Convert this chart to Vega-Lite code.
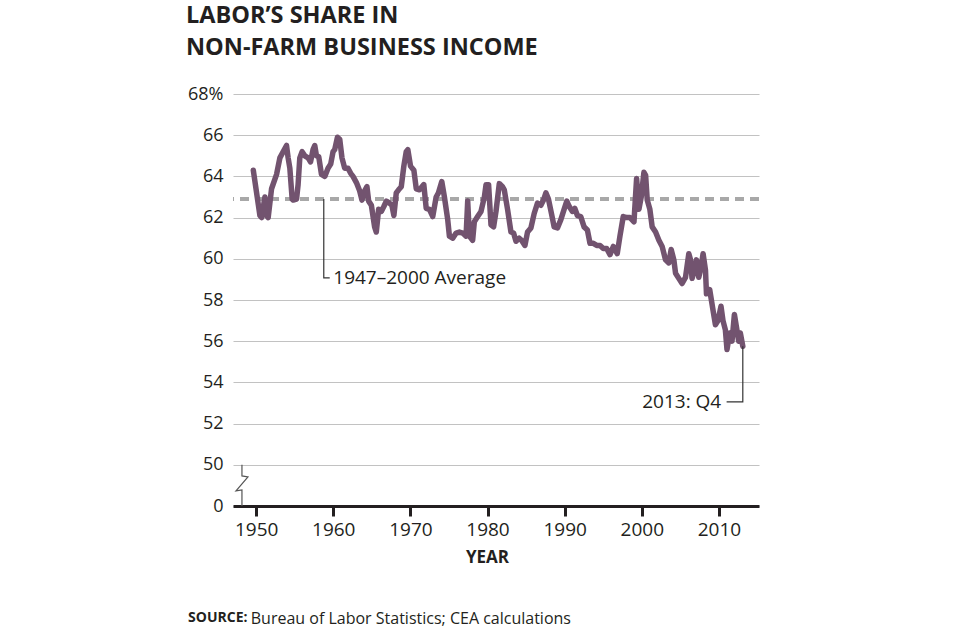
{
  "$schema": "https://vega.github.io/schema/vega-lite/v6.json",
  "width": 526,
  "height": 412,
  "autosize": {"type": "none"},
  "padding": {"left": 233, "top": 94, "right": 201, "bottom": 123},
  "background": "#ffffff",
  "config": {"view": {"stroke": null}, "font": "Open Sans"},
  "title": {
    "text": ["LABOR’S SHARE IN", "NON-FARM BUSINESS INCOME"],
    "anchor": "start",
    "frame": "group",
    "font": "Open Sans",
    "fontSize": 23.5,
    "fontWeight": "bold",
    "color": "#231f20",
    "lineHeight": 32,
    "dx": -47,
    "offset": 26
  },
  "datasets": {
    "share": [
      {"year": 1949.63, "value": 64.3}, {"year": 1950.49, "value": 62.1}, {"year": 1950.71, "value": 62.0},
      {"year": 1951.14, "value": 63.0}, {"year": 1951.36, "value": 62.1}, {"year": 1951.56, "value": 62.0},
      {"year": 1952.0, "value": 63.4}, {"year": 1952.65, "value": 64.1}, {"year": 1953.08, "value": 64.9},
      {"year": 1953.5, "value": 65.2}, {"year": 1953.94, "value": 65.5}, {"year": 1954.15, "value": 64.9},
      {"year": 1954.37, "value": 64.4}, {"year": 1954.67, "value": 62.9}, {"year": 1954.8, "value": 62.85},
      {"year": 1955.24, "value": 62.9}, {"year": 1955.44, "value": 63.6}, {"year": 1955.66, "value": 64.9},
      {"year": 1955.96, "value": 65.2}, {"year": 1956.31, "value": 65.0}, {"year": 1956.74, "value": 64.9},
      {"year": 1957.05, "value": 64.7}, {"year": 1957.38, "value": 65.3}, {"year": 1957.6, "value": 65.5},
      {"year": 1957.82, "value": 65.0}, {"year": 1958.12, "value": 64.95}, {"year": 1958.47, "value": 64.1},
      {"year": 1958.9, "value": 64.0}, {"year": 1959.32, "value": 64.4}, {"year": 1959.67, "value": 64.6},
      {"year": 1959.97, "value": 65.2}, {"year": 1960.19, "value": 65.3}, {"year": 1960.54, "value": 65.9},
      {"year": 1960.84, "value": 65.8}, {"year": 1961.13, "value": 64.9}, {"year": 1961.48, "value": 64.4},
      {"year": 1961.91, "value": 64.4}, {"year": 1962.26, "value": 64.15}, {"year": 1962.56, "value": 64.0},
      {"year": 1963.0, "value": 63.7}, {"year": 1963.42, "value": 63.3}, {"year": 1963.72, "value": 62.85},
      {"year": 1964.07, "value": 63.3}, {"year": 1964.37, "value": 63.5}, {"year": 1964.59, "value": 62.8},
      {"year": 1964.94, "value": 62.6}, {"year": 1965.36, "value": 61.55}, {"year": 1965.58, "value": 61.3},
      {"year": 1965.88, "value": 62.4}, {"year": 1966.23, "value": 62.3}, {"year": 1966.57, "value": 62.55},
      {"year": 1966.88, "value": 62.8}, {"year": 1967.3, "value": 62.7}, {"year": 1967.6, "value": 62.6},
      {"year": 1967.86, "value": 62.1}, {"year": 1968.17, "value": 63.2}, {"year": 1968.47, "value": 63.35},
      {"year": 1968.82, "value": 63.5}, {"year": 1969.15, "value": 64.5}, {"year": 1969.46, "value": 65.2},
      {"year": 1969.67, "value": 65.3}, {"year": 1970.02, "value": 64.5}, {"year": 1970.45, "value": 64.3},
      {"year": 1970.76, "value": 63.4}, {"year": 1971.18, "value": 63.35}, {"year": 1971.74, "value": 63.6},
      {"year": 1972.05, "value": 62.45}, {"year": 1972.47, "value": 62.4}, {"year": 1972.9, "value": 62.05},
      {"year": 1973.34, "value": 63.0}, {"year": 1973.64, "value": 63.2}, {"year": 1974.07, "value": 63.75},
      {"year": 1974.41, "value": 63.0}, {"year": 1974.84, "value": 61.9}, {"year": 1975.06, "value": 61.1},
      {"year": 1975.49, "value": 61.0}, {"year": 1975.93, "value": 61.25}, {"year": 1976.35, "value": 61.3},
      {"year": 1976.78, "value": 61.25}, {"year": 1977.22, "value": 61.1}, {"year": 1977.43, "value": 62.8},
      {"year": 1977.65, "value": 61.1}, {"year": 1978.07, "value": 60.9}, {"year": 1978.29, "value": 61.8},
      {"year": 1978.72, "value": 62.05}, {"year": 1979.16, "value": 62.3}, {"year": 1979.59, "value": 63.0},
      {"year": 1979.81, "value": 63.6}, {"year": 1980.14, "value": 63.6}, {"year": 1980.45, "value": 61.65},
      {"year": 1980.79, "value": 61.55}, {"year": 1981.1, "value": 62.3}, {"year": 1981.53, "value": 63.65},
      {"year": 1981.95, "value": 63.5}, {"year": 1982.17, "value": 63.35}, {"year": 1982.6, "value": 62.4},
      {"year": 1983.04, "value": 61.3}, {"year": 1983.38, "value": 61.25}, {"year": 1983.69, "value": 60.85},
      {"year": 1984.11, "value": 61.0}, {"year": 1984.41, "value": 60.9}, {"year": 1984.85, "value": 60.65},
      {"year": 1985.19, "value": 61.3}, {"year": 1985.63, "value": 61.5}, {"year": 1986.05, "value": 62.2},
      {"year": 1986.48, "value": 62.7}, {"year": 1986.92, "value": 62.6}, {"year": 1987.26, "value": 62.85},
      {"year": 1987.57, "value": 63.2}, {"year": 1987.9, "value": 62.9}, {"year": 1988.29, "value": 62.2},
      {"year": 1988.64, "value": 61.55}, {"year": 1989.07, "value": 61.5}, {"year": 1989.51, "value": 61.9},
      {"year": 1989.93, "value": 62.4}, {"year": 1990.28, "value": 62.8}, {"year": 1990.58, "value": 62.55},
      {"year": 1991.01, "value": 62.3}, {"year": 1991.32, "value": 62.45}, {"year": 1991.65, "value": 62.1},
      {"year": 1992.09, "value": 62.05}, {"year": 1992.52, "value": 61.55}, {"year": 1992.95, "value": 61.4},
      {"year": 1993.29, "value": 60.75}, {"year": 1993.72, "value": 60.75}, {"year": 1994.16, "value": 60.65},
      {"year": 1994.59, "value": 60.65}, {"year": 1995.01, "value": 60.5}, {"year": 1995.45, "value": 60.5},
      {"year": 1995.88, "value": 60.2}, {"year": 1996.31, "value": 60.6}, {"year": 1996.82, "value": 60.25},
      {"year": 1997.17, "value": 61.1}, {"year": 1997.6, "value": 62.05}, {"year": 1998.04, "value": 62.0},
      {"year": 1998.47, "value": 62.0}, {"year": 1998.99, "value": 61.8}, {"year": 1999.33, "value": 63.9},
      {"year": 1999.63, "value": 62.4}, {"year": 1999.93, "value": 63.0}, {"year": 2000.28, "value": 64.2},
      {"year": 2000.5, "value": 64.05}, {"year": 2000.71, "value": 62.85}, {"year": 2001.05, "value": 62.4},
      {"year": 2001.35, "value": 61.55}, {"year": 2001.79, "value": 61.3}, {"year": 2002.22, "value": 60.9},
      {"year": 2002.64, "value": 60.6}, {"year": 2003.08, "value": 59.95}, {"year": 2003.51, "value": 59.8},
      {"year": 2003.81, "value": 60.45}, {"year": 2004.16, "value": 59.95}, {"year": 2004.38, "value": 59.3},
      {"year": 2004.8, "value": 59.05}, {"year": 2005.23, "value": 58.8}, {"year": 2005.67, "value": 59.1},
      {"year": 2006.1, "value": 60.25}, {"year": 2006.32, "value": 59.95}, {"year": 2006.52, "value": 59.05},
      {"year": 2006.83, "value": 59.45}, {"year": 2007.09, "value": 59.95}, {"year": 2007.39, "value": 59.1},
      {"year": 2007.69, "value": 59.6}, {"year": 2007.95, "value": 60.25}, {"year": 2008.26, "value": 59.45},
      {"year": 2008.39, "value": 58.3}, {"year": 2008.81, "value": 58.5}, {"year": 2009.24, "value": 57.5},
      {"year": 2009.55, "value": 56.8}, {"year": 2009.89, "value": 57.0}, {"year": 2010.27, "value": 57.7},
      {"year": 2010.53, "value": 57.0}, {"year": 2010.84, "value": 56.55}, {"year": 2011.05, "value": 55.6},
      {"year": 2011.4, "value": 56.4}, {"year": 2011.7, "value": 56.0}, {"year": 2012.01, "value": 57.3},
      {"year": 2012.27, "value": 56.7}, {"year": 2012.56, "value": 56.0}, {"year": 2012.78, "value": 56.4},
      {"year": 2013.1, "value": 55.75}
    ],
    "leaders": [
      {"leader": "average", "step": 1, "year": 1958.77, "value": 62.9},
      {"leader": "average", "step": 2, "year": 1958.77, "value": 59.07},
      {"leader": "average", "step": 3, "year": 1959.54, "value": 59.07},
      {"leader": "latest", "step": 1, "year": 2013.1, "value": 55.75},
      {"leader": "latest", "step": 2, "year": 2013.1, "value": 53.05},
      {"leader": "latest", "step": 3, "year": 2011.0, "value": 53.05}
    ],
    "axisbreak": [
      {"step": 1, "year": 1948.16, "value": 50.0},
      {"step": 2, "year": 1948.16, "value": 49.46},
      {"step": 3, "year": 1948.94, "value": 49.41},
      {"step": 4, "year": 1947.39, "value": 48.73},
      {"step": 5, "year": 1948.16, "value": 48.78},
      {"step": 6, "year": 1948.16, "value": 48.0}
    ]
  },
  "layer": [
    {
      "data": {"name": "share"},
      "mark": {"type": "rule", "color": "#a8a8a8", "strokeWidth": 2.5, "strokeDash": [9, 6]},
      "encoding": {"y": {"datum": 62.9, "type": "quantitative"}}
    },
    {
      "data": {"name": "share"},
      "mark": {"type": "line", "color": "#72536f", "strokeWidth": 5.5, "strokeJoin": "round", "strokeCap": "round"},
      "encoding": {
        "x": {
          "field": "year", "type": "quantitative",
          "scale": {"domain": [1947, 2015.2], "nice": false, "zero": false},
          "axis": {
            "values": [1950, 1960, 1970, 1980, 1990, 2000, 2010],
            "format": "d",
            "title": "YEAR",
            "titleFont": "Open Sans", "titleFontSize": 17, "titleFontWeight": "bold", "titleColor": "#231f20",
            "titleX": 254, "titleY": 51, "titleBaseline": "middle",
            "grid": false,
            "domainColor": "#231f20", "domainWidth": 3,
            "tickColor": "#231f20", "tickWidth": 3, "tickSize": 10,
            "labelFont": "Open Sans", "labelFontSize": 19, "labelColor": "#231f20", "labelPadding": 4
          }
        },
        "y": {
          "field": "value", "type": "quantitative",
          "scale": {"domain": [48, 68], "nice": false, "zero": false},
          "axis": {
            "values": [48, 50, 52, 54, 56, 58, 60, 62, 64, 66, 68],
            "labelExpr": "datum.value == 48 ? '0' : (datum.value == 68 ? '68%' : datum.label)",
            "title": null,
            "domain": false, "ticks": false,
            "grid": true, "gridColor": "#c2c2c2", "gridWidth": 1.2,
            "labelFont": "Open Sans", "labelFontSize": 18, "labelColor": "#231f20", "labelPadding": 10
          }
        }
      }
    },
    {
      "data": {"name": "leaders"},
      "mark": {"type": "line", "color": "#333333", "strokeWidth": 1.2},
      "encoding": {
        "x": {"field": "year", "type": "quantitative"},
        "y": {"field": "value", "type": "quantitative"},
        "detail": {"field": "leader"},
        "order": {"field": "step"}
      }
    },
    {
      "data": {"name": "axisbreak"},
      "mark": {"type": "line", "color": "#555555", "strokeWidth": 1.2},
      "encoding": {
        "x": {"field": "year", "type": "quantitative"},
        "y": {"field": "value", "type": "quantitative"},
        "order": {"field": "step"}
      }
    },
    {
      "data": {"values": [{"label": "1947–2000 Average"}]},
      "mark": {"type": "text", "align": "left", "baseline": "middle", "font": "Open Sans", "fontSize": 19, "color": "#231f20"},
      "encoding": {
        "x": {"datum": 1960.0, "type": "quantitative"},
        "y": {"datum": 59.07, "type": "quantitative"},
        "text": {"field": "label"}
      }
    },
    {
      "data": {"values": [{"label": "2013: Q4"}]},
      "mark": {"type": "text", "align": "right", "baseline": "middle", "font": "Open Sans", "fontSize": 19, "color": "#231f20"},
      "encoding": {
        "x": {"datum": 2010.3, "type": "quantitative"},
        "y": {"datum": 53.05, "type": "quantitative"},
        "text": {"field": "label"}
      }
    },
    {
      "data": {"values": [{"label": "SOURCE:"}]},
      "mark": {"type": "text", "align": "left", "baseline": "middle", "font": "Open Sans", "fontSize": 14, "fontWeight": "bold", "color": "#231f20"},
      "encoding": {
        "x": {"datum": 1941.18, "type": "quantitative"},
        "y": {"datum": 42.55, "type": "quantitative"},
        "text": {"field": "label"}
      }
    },
    {
      "data": {"values": [{"label": "Bureau of Labor Statistics; CEA calculations"}]},
      "mark": {"type": "text", "align": "left", "baseline": "middle", "font": "Open Sans", "fontSize": 16, "color": "#231f20"},
      "encoding": {
        "x": {"datum": 1949.3, "type": "quantitative"},
        "y": {"datum": 42.5, "type": "quantitative"},
        "text": {"field": "label"}
      }
    }
  ]
}
